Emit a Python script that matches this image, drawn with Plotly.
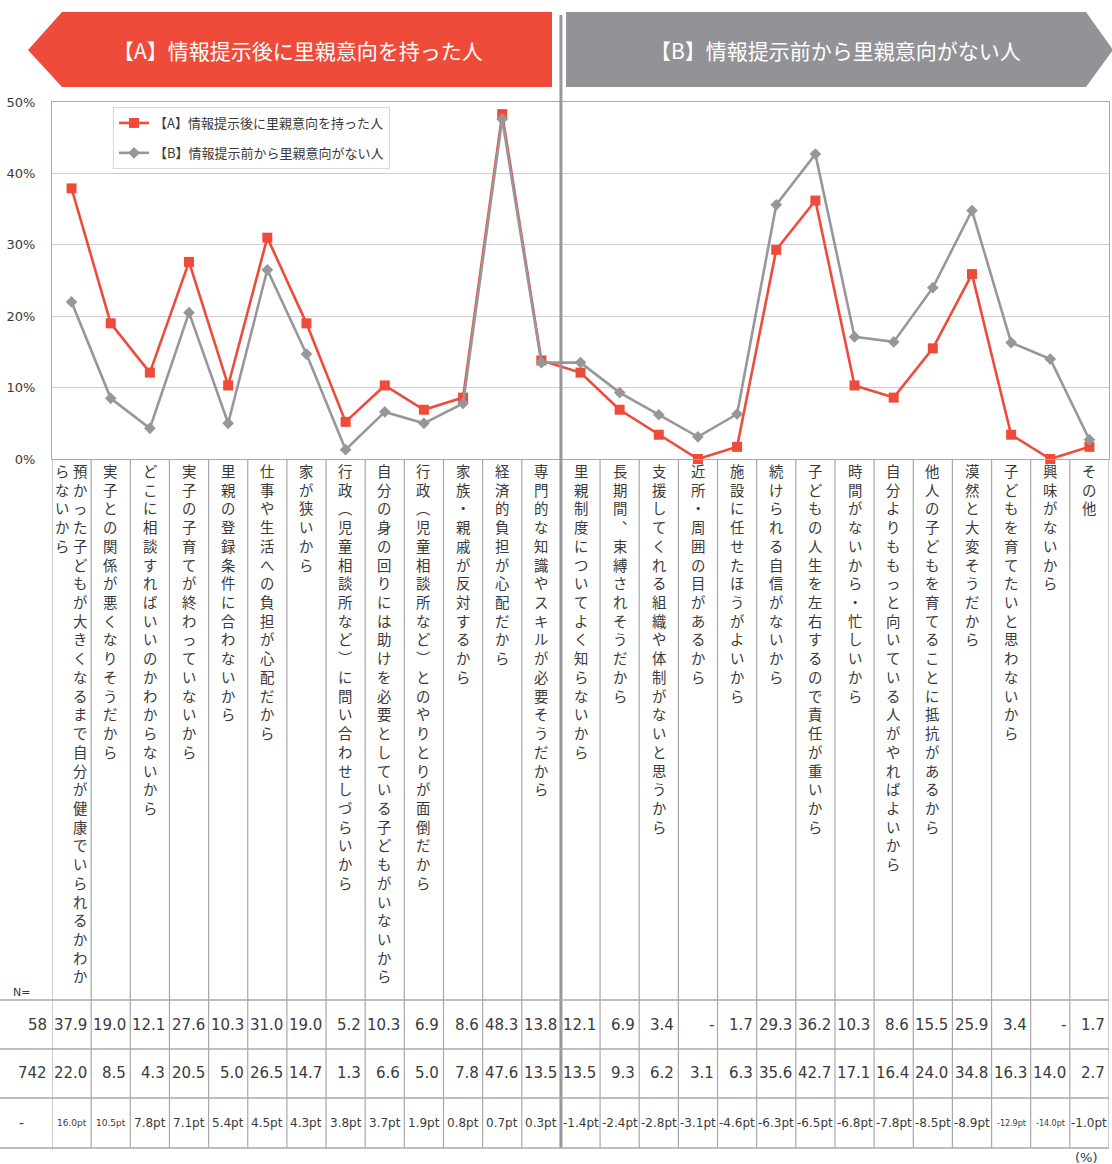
import plotly.graph_objects as go

# ---------------- data ----------------
categories = [
    "預かった子どもが大きくなるまで自分が健康でいられるかわからないから",
    "実子との関係が悪くなりそうだから",
    "どこに相談すればいいのかわからないから",
    "実子の子育てが終わっていないから",
    "里親の登録条件に合わないから",
    "仕事や生活への負担が心配だから",
    "家が狭いから",
    "行政（児童相談所など）に問い合わせしづらいから",
    "自分の身の回りには助けを必要としている子どもがいないから",
    "行政（児童相談所など）とのやりとりが面倒だから",
    "家族・親戚が反対するから",
    "経済的負担が心配だから",
    "専門的な知識やスキルが必要そうだから",
    "里親制度についてよく知らないから",
    "長期間、束縛されそうだから",
    "支援してくれる組織や体制がないと思うから",
    "近所・周囲の目があるから",
    "施設に任せたほうがよいから",
    "続けられる自信がないから",
    "子どもの人生を左右するので責任が重いから",
    "時間がないから・忙しいから",
    "自分よりももっと向いている人がやればよいから",
    "他人の子どもを育てることに抵抗があるから",
    "漠然と大変そうだから",
    "子どもを育てたいと思わないから",
    "興味がないから",
    "その他",
]
series_a = [37.9, 19.0, 12.1, 27.6, 10.3, 31.0, 19.0, 5.2, 10.3, 6.9, 8.6, 48.3, 13.8,
            12.1, 6.9, 3.4, None, 1.7, 29.3, 36.2, 10.3, 8.6, 15.5, 25.9, 3.4, None, 1.7]
series_b = [22.0, 8.5, 4.3, 20.5, 5.0, 26.5, 14.7, 1.3, 6.6, 5.0, 7.8, 47.6, 13.5,
            13.5, 9.3, 6.2, 3.1, 6.3, 35.6, 42.7, 17.1, 16.4, 24.0, 34.8, 16.3, 14.0, 2.7]
diff_pt = [16.0, 10.5, 7.8, 7.1, 5.4, 4.5, 4.3, 3.8, 3.7, 1.9, 0.8, 0.7, 0.3,
           -1.4, -2.4, -2.8, -3.1, -4.6, -6.3, -6.5, -6.8, -7.8, -8.5, -8.9, -12.9, -14.0, -1.0]
n_a = 58
n_b = 742
name_a = "【A】情報提示後に里親意向を持った人"
name_b = "【B】情報提示前から里親意向がない人"
y_ticks = [0, 10, 20, 30, 40, 50]
y_tick_labels = ["0%", "10%", "20%", "30%", "40%", "50%"]
split_index = 13  # A-group / B-group boundary

# ---------------- style ----------------
W, H = 1112, 1164
L, R, T, B = 52, 1109, 102, 459
RED = "#EF4B3A"
GRAY_LINE = "#97979b"
GRAY_BANNER = "#939397"
TABLE_LINE = "#a8a8a8"
TXT = "#3a3a3a"
JP = "Noto Sans CJK JP"
NUM = "DejaVu Sans"
ncat = len(categories)


def xp(px):
    return (px - L) / (R - L)


def yp(py):
    return (B - py) / (B - T)


fig = go.Figure()
xs = list(range(ncat))
fig.add_trace(go.Scatter(
    x=xs, y=[v if v is not None else 0 for v in series_a], name=name_a,
    mode="lines+markers", line=dict(color=RED, width=2.6),
    marker=dict(symbol="square", size=10, color=RED), cliponaxis=False,
    legendgroup="a"))
fig.add_trace(go.Scatter(
    x=xs, y=series_b, name=name_b,
    mode="lines+markers", line=dict(color=GRAY_LINE, width=2.6),
    marker=dict(symbol="diamond", size=9, color=GRAY_LINE), cliponaxis=False,
    legendgroup="b"))

shapes = []
annotations = []


def note(text, px, py, size, family=NUM, color=TXT, xanchor="center", yanchor="middle"):
    annotations.append(dict(text=text, x=xp(px), y=yp(py), xref="paper", yref="paper",
                            xanchor=xanchor, yanchor=yanchor, showarrow=False,
                            font=dict(family=family, size=size, color=color)))


# banners
shapes.append(dict(type="path", xref="paper", yref="paper",
                   path=f"M {xp(28)},{yp(50)} L {xp(62)},{yp(12)} L {xp(552)},{yp(12)} "
                        f"L {xp(552)},{yp(87)} L {xp(62)},{yp(87)} Z",
                   fillcolor=RED, line=dict(width=0), layer="above"))
shapes.append(dict(type="path", xref="paper", yref="paper",
                   path=f"M {xp(566)},{yp(12)} L {xp(1086)},{yp(12)} L {xp(1113)},{yp(50)} "
                        f"L {xp(1086)},{yp(87)} L {xp(566)},{yp(87)} Z",
                   fillcolor=GRAY_BANNER, line=dict(width=0), layer="above"))
note(name_a, 298, 50, 21, family=JP, color="white")
note(name_b, 835, 50, 21, family=JP, color="white")

# column lines of the label / table area
for i in range(ncat + 1):
    xb = i - 0.5
    if i == split_index:
        continue
    shapes.append(dict(type="line", xref="x", yref="paper", x0=xb, x1=xb,
                       y0=yp(B), y1=yp(1150 if i == 0 else 1148),
                       line=dict(color=TABLE_LINE, width=1.2), layer="above"))
# separator
shapes.append(dict(type="line", xref="x", yref="paper", x0=split_index - 0.5, x1=split_index - 0.5,
                   y0=yp(15), y1=yp(1148), line=dict(color="#98989b", width=3), layer="above"))
# row lines
for py in [1000, 1049, 1098, 1148]:
    shapes.append(dict(type="line", xref="paper", yref="paper", x0=xp(0), x1=xp(R),
                       y0=yp(py), y1=yp(py), line=dict(color=TABLE_LINE, width=1.4), layer="above"))

# vertical category labels
VERT = {"（": "︵", "）": "︶", "、": "︑", "ー": "｜"}
MAXC = 28
for i, cat in enumerate(categories):
    chars = [VERT.get(c, c) for c in cat]
    cols = [chars[k:k + MAXC] for k in range(0, len(chars), MAXC)]
    shifts = [0] if len(cols) == 1 else [8.5, -9.5]
    for col, sh in zip(cols, shifts):
        annotations.append(dict(text="<br>".join(col), x=i, y=yp(458), xref="x", yref="paper",
                                xanchor="center", yanchor="top", xshift=sh, showarrow=False,
                                align="center", font=dict(family=JP, size=14.4, color=TXT)))

# table
row_y = [1025, 1073, 1123]


def fmt(v):
    return "-" if v is None else f"{v:.1f}"


for i in range(ncat):
    for r, series in enumerate([series_a, series_b]):
        annotations.append(dict(text=fmt(series[i]), x=i + 0.5, y=yp(row_y[r]), xref="x", yref="paper",
                                xanchor="right", yanchor="middle", xshift=-2, showarrow=False,
                                font=dict(family=NUM, size=15, color=TXT)))
    d = diff_pt[i]
    if abs(d) >= 10:
        fs = 9 if d > 0 else 8
    else:
        fs = 12
    annotations.append(dict(text=f"{d:.1f}pt", x=i, y=yp(row_y[2]), xref="x", yref="paper",
                            xanchor="center", yanchor="middle", showarrow=False,
                            font=dict(family=NUM, size=fs, color=TXT)))

note("N=", 22, 992, 11)
note(str(n_a), 49, row_y[0], 15, xanchor="right")
note(str(n_b), 49, row_y[1], 15, xanchor="right")
note("-", 22, row_y[2], 14)
note("(%)", 1086, 1157, 13)

fig.update_layout(
    width=W, height=H,
    margin=dict(l=L, r=W - R, t=T, b=H - B, pad=0),
    paper_bgcolor="white", plot_bgcolor="white",
    xaxis=dict(range=[-0.5, ncat - 0.5], showticklabels=False, showgrid=False, zeroline=False,
               showline=True, linecolor=TABLE_LINE, linewidth=1.2, mirror=True, ticks=""),
    yaxis=dict(range=[0, 50], tickmode="array", tickvals=y_ticks, ticktext=y_tick_labels,
               showgrid=True, gridcolor="#cfcfcf", gridwidth=1, zeroline=False, showline=True,
               linecolor=TABLE_LINE, linewidth=1.2, mirror=True, ticks="",
               ticklabelstandoff=13, tickfont=dict(family=NUM, size=13, color=TXT)),
    legend=dict(x=xp(113), y=yp(107), xanchor="left", yanchor="top", bgcolor="white",
                bordercolor="#d8d8d8", borderwidth=1, tracegroupgap=10,
                font=dict(family=JP, size=13, color=TXT)),
    showlegend=True,
    shapes=shapes,
    annotations=annotations,
)

fig.write_html("out.html", config={"displayModeBar": False},
               post_script="document.body.style.margin='0';")
